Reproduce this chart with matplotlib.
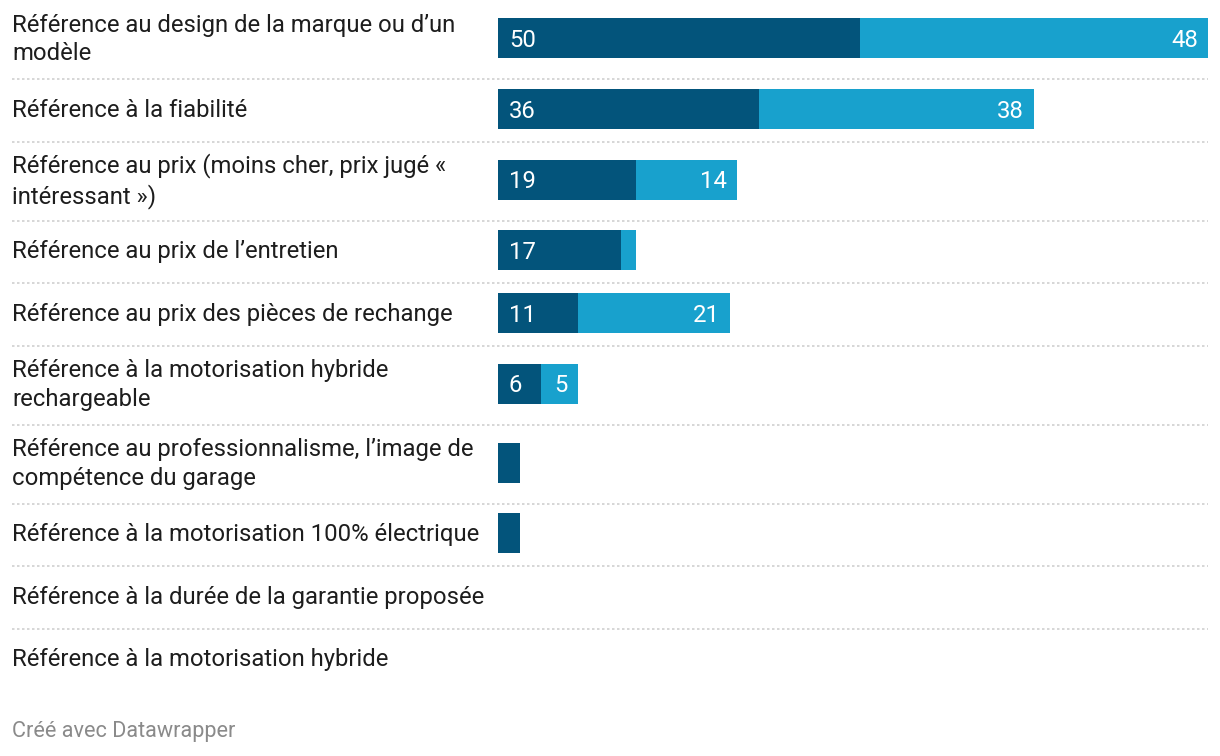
import matplotlib
matplotlib.use("Agg")
import matplotlib.pyplot as plt
from matplotlib.transforms import blended_transform_factory
import numpy as np

plt.rcParams['font.family'] = ['Roboto', 'DejaVu Sans']

# data
categories = [
    "Référence au design de la marque ou d’un\nmodèle",
    "Référence à la fiabilité",
    "Référence au prix (moins cher, prix jugé «\nintéressant »)",
    "Référence au prix de l’entretien",
    "Référence au prix des pièces de rechange",
    "Référence à la motorisation hybride\nrechargeable",
    "Référence au professionnalisme, l’image de\ncompétence du garage",
    "Référence à la motorisation 100% électrique",
    "Référence à la durée de la garantie proposée",
    "Référence à la motorisation hybride",
]
series_dark = [50, 36, 19, 17, 11, 6, 3, 3, 0, 0]
series_light = [48, 38, 14, 2, 21, 5, 0, 0, 0, 0]

DARK = "#03547b"
LIGHT = "#18a1cd"
W, H = 1220, 756

fig = plt.figure(figsize=(W / 100, H / 100), dpi=100)
# axes: x from 498 to 1208 px, y covers whole figure height
ax = fig.add_axes([498 / W, 0, (1208 - 498) / W, 1])
ax.set_xlim(0, max(d + l for d, l in zip(series_dark, series_light)))
ax.set_ylim(H, 0)
ax.axis("off")

# row layout from number of label lines
heights = [79 if "\n" in c else 62.5 for c in categories]
tops = np.concatenate([[0], np.cumsum(heights)[:-1]])
centers = tops + np.array(heights) / 2
bar_h = 40

ax.barh(centers - 1.5, series_dark, height=bar_h, color=DARK)
ax.barh(centers - 1.5, series_light, left=series_dark, height=bar_h, color=LIGHT)

trans = blended_transform_factory(fig.transFigure, ax.transData)
for i, (c, d, l) in enumerate(zip(categories, series_dark, series_light)):
    y = centers[i]
    fig.text(12 / W, y, c, transform=trans, ha="left", va="center",
             fontsize=17.2, color="#1d1d1d", linespacing=1.3)
    if d >= 5:
        ax.annotate(str(d), (0, y - 1.5), xytext=(11, 0), textcoords="offset pixels",
                    ha="left", va="center_baseline", color="white", fontsize=17.2)
    if l >= 5:
        ax.annotate(str(l), (d + l, y - 1.5), xytext=(-10, 0), textcoords="offset pixels",
                    ha="right", va="center_baseline", color="white", fontsize=17.2)
    if i < len(categories) - 1:
        sep = tops[i] + heights[i]
        fig.add_artist(plt.Line2D([12 / W, 1208 / W], [sep, sep], transform=trans,
                                  color="#d0d0d0", lw=1.2, linestyle=(0, (1.5, 1.5))))

fig.text(12 / W, 1 - 731 / H, "Créé avec Datawrapper", ha="left", va="center",
         fontsize=15.6, color="#8a8a8a")

fig.savefig("out.png", dpi=100)
